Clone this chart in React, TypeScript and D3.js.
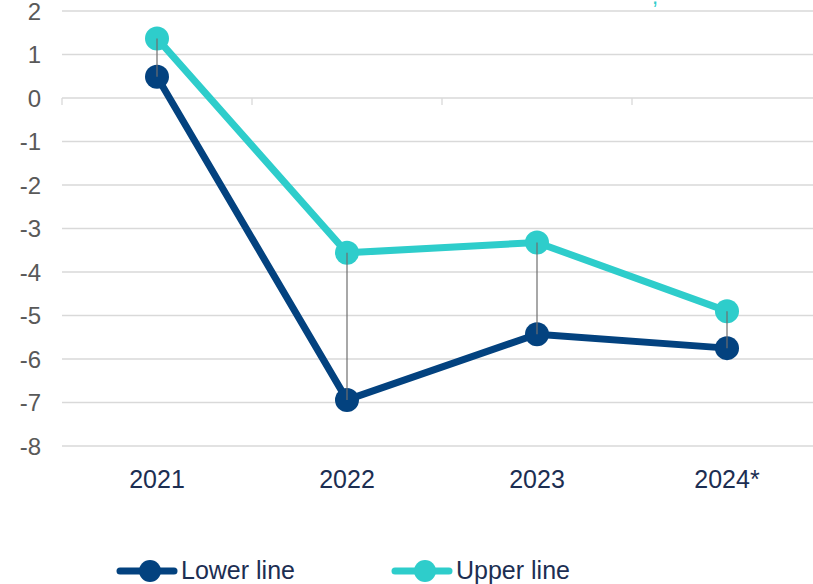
import React from "react";
import * as d3 from "d3";

const categories = ["2021", "2022", "2023", "2024*"];
const lowerLine = [0.49, -6.94, -5.43, -5.75];
const upperLine = [1.37, -3.56, -3.32, -4.9];
const yTicks = [2, 1, 0, -1, -2, -3, -4, -5, -6, -7, -8];
const seriesNames = ["Lower line", "Upper line"];

const W = 813;
const H = 584;
const NAVY = "#03427F";
const TEAL = "#2ECDCB";
const TEXT_DARK = "#1C2E52";
const GRID = "#D9D9D9";

export default function App() {
  const x = d3.scaleBand<string>().domain(categories).range([62, 822]).paddingInner(0).paddingOuter(0);
  const y = d3.scaleLinear().domain([-8, 2]).range([446, 11]);
  const cx = (c: string) => (x(c) as number) + x.bandwidth() / 2;
  const line = d3
    .line<number>()
    .x((_, i) => cx(categories[i]))
    .y((v) => y(v));

  const series = [
    { name: seriesNames[0], values: lowerLine, color: NAVY },
    { name: seriesNames[1], values: upperLine, color: TEAL },
  ];

  return (
    <svg
      width={W}
      height={H}
      style={{ position: "absolute", left: 0, top: 0, background: "#fff" }}
      fontFamily="'Liberation Sans', Arial, sans-serif"
    >
      {/* cut-off title fragment */}
      <text x={652} y={4} fontSize={22} fill={TEAL}>,</text>
      {/* grid */}
      {yTicks.map((t) => (
        <g key={t}>
          <line x1={62} x2={W} y1={y(t)} y2={y(t)} stroke={GRID} strokeWidth={1.3} />
          <text x={41} y={y(t)} dy="0.36em" textAnchor="end" fontSize={24} fill="#595959">
            {t}
          </text>
        </g>
      ))}
      {/* category ticks on zero line */}
      {categories.map((c) => (
        <line key={c} x1={x(c) as number} x2={x(c) as number} y1={y(0)} y2={y(0) + 7} stroke={GRID} strokeWidth={1.3} />
      ))}
      {/* x labels */}
      {categories.map((c) => (
        <text key={c} x={cx(c)} y={488} textAnchor="middle" fontSize={25} fill={TEXT_DARK}>
          {c}
        </text>
      ))}
      {/* lines */}
      {series.map((s) => (
        <path key={s.name} d={line(s.values) || ""} fill="none" stroke={s.color} strokeWidth={7} strokeLinejoin="round" />
      ))}
      {/* markers */}
      {series.map((s) =>
        s.values.map((v, i) => (
          <circle key={s.name + i} cx={cx(categories[i])} cy={y(v)} r={12} fill={s.color} />
        ))
      )}
      {/* drop lines */}
      {categories.map((c, i) => (
        <line key={c} x1={cx(c)} x2={cx(c)} y1={y(upperLine[i])} y2={y(lowerLine[i])} stroke="#6E6E6E" strokeWidth={1.2} />
      ))}
      {/* legend */}
      {series.map((s, i) => {
        const lx = [120, 395][i];
        return (
          <g key={s.name}>
            <line x1={lx} x2={lx + 54} y1={571} y2={571} stroke={s.color} strokeWidth={7} strokeLinecap="round" />
            <circle cx={lx + 30} cy={571} r={11} fill={s.color} />
            <text x={lx + 61} y={579} fontSize={25} fill={TEXT_DARK}>
              {s.name}
            </text>
          </g>
        );
      })}
    </svg>
  );
}
